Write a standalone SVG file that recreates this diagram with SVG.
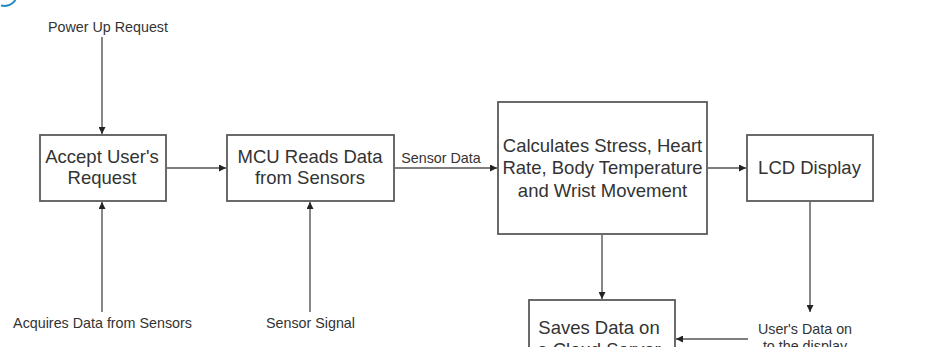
<svg xmlns="http://www.w3.org/2000/svg" width="950" height="347" viewBox="0 0 950 347">
  <defs>
    <marker id="arrow" viewBox="0 0 10 10" refX="10" refY="5" markerWidth="7" markerHeight="7" markerUnits="userSpaceOnUse" orient="auto">
      <path d="M0,0 L10,5 L0,10 z" fill="#222"/>
    </marker>
    <style>
      .box { fill: #fff; stroke: #5a5a5a; stroke-width: 1.8; }
      .lbl { font-family: "Liberation Sans", Arial, sans-serif; font-size: 18.5px; fill: #333; text-anchor: middle; }
      .small { font-family: "Liberation Sans", Arial, sans-serif; font-size: 14.3px; fill: #333; text-anchor: middle; }
      .wire { fill: none; stroke: #555; stroke-width: 1.4; }
      .wire.arr { marker-end: url(#arrow); }
    </style>
  </defs>

  <rect width="950" height="347" fill="#fff"/>

  <!-- corner arc -->
  <path d="M1,5.5 Q10,7.5 15.5,0" fill="none" stroke="#1f8bc0" stroke-width="2"/>

  <!-- connectors -->
  <g id="connectors">
    <path class="wire arr" d="M102,37 V134"/>
    <path class="wire arr" d="M102,312 V202"/>
    <path class="wire arr" d="M310,312 V202"/>
    <path class="wire arr" d="M167,168 H226"/>
    <path class="wire arr" d="M395,168 H497"/>
    <path class="wire arr" d="M708,168 H746"/>
    <path class="wire arr" d="M602,235 V299"/>
    <path class="wire arr" d="M810,202 V312"/>
    <path class="wire arr" d="M748,339 H676"/>
  </g>

  <!-- free labels -->
  <g id="labels">
    <text class="small" x="108" y="32">Power Up Request</text>
    <text class="small" x="102.5" y="328">Acquires Data from Sensors</text>
    <text class="small" x="310.5" y="328">Sensor Signal</text>
    <text class="small" x="441" y="163">Sensor Data</text>
    <text class="small" x="805" y="334" font-size="13.6">User's Data on</text>
    <text class="small" x="805" y="351" font-size="13.6">to the display</text>
  </g>

  <g id="accept">
    <rect class="box" x="40" y="135" width="126" height="66"/>
    <text class="lbl" x="102" y="162.5">Accept User's</text>
    <text class="lbl" x="102" y="184">Request</text>
  </g>

  <g id="mcu">
    <rect class="box" x="227" y="135" width="167" height="66"/>
    <text class="lbl" x="310" y="162.5">MCU Reads Data</text>
    <text class="lbl" x="310" y="184">from Sensors</text>
  </g>

  <g id="calculate">
    <rect class="box" x="498" y="102" width="209" height="132"/>
    <text class="lbl" x="602.5" y="151.5">Calculates Stress, Heart</text>
    <text class="lbl" x="602.5" y="174">Rate, Body Temperature</text>
    <text class="lbl" x="602.5" y="196.5">and Wrist Movement</text>
  </g>

  <g id="lcd">
    <rect class="box" x="747" y="135" width="126" height="66"/>
    <text class="lbl" x="809.5" y="174">LCD Display</text>
  </g>

  <g id="cloud">
    <rect class="box" x="529" y="300" width="146" height="70"/>
    <text class="lbl" x="599" y="334">Saves Data on</text>
    <text class="lbl" x="599" y="356">a Cloud Server</text>
  </g>
</svg>
